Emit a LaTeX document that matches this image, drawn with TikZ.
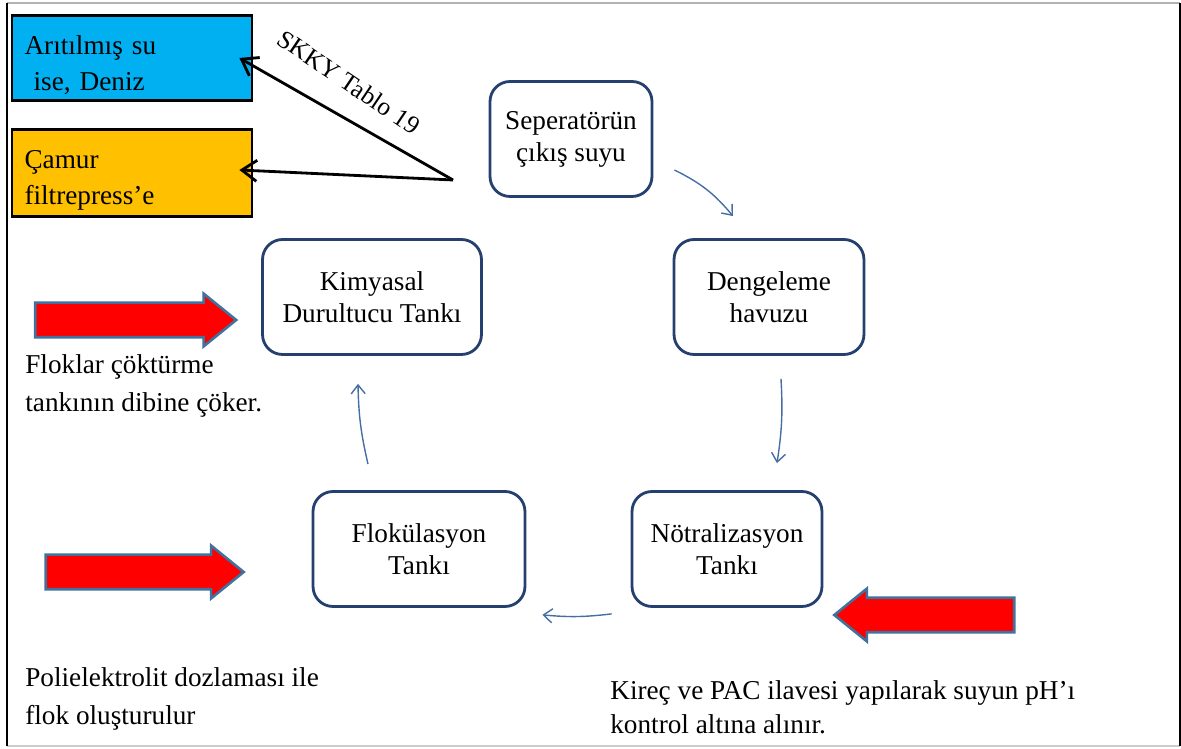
\documentclass[tikz,border=0pt]{standalone}
\usepackage{fontspec}
\setmainfont{Liberation Serif}
\usetikzlibrary{shapes.arrows,arrows.meta}
\definecolor{boxblue}{RGB}{37,64,110}
\definecolor{flowblue}{RGB}{70,110,165}
\definecolor{arrowedge}{RGB}{65,113,156}
\definecolor{skyfill}{RGB}{0,176,240}
\definecolor{goldfill}{RGB}{255,192,0}
\begin{document}
\begin{tikzpicture}[
        x=0.02cm, y=-0.02cm,
        box/.style={rectangle, draw=boxblue, line width=1.6pt, rounded corners=0.4cm,
                    minimum height=2.3cm, align=center,
                    font=\fontsize{15.5}{18.2}\selectfont},
        outbox/.style={rectangle, draw, line width=1.6pt, minimum width=4.8cm,
                    minimum height=1.7cm, text width=4.3cm, align=left,
                    font=\fontsize{15.5}{20.5}\selectfont},
        flow/.style={draw=flowblue, line width=0.8pt,
                    -{Straight Barb[length=5pt,width=8pt]}},
        outline/.style={line width=1.6pt, -{Straight Barb[length=0.3cm,width=0.42cm]}},
        redarrow/.style={single arrow, fill=red, draw=arrowedge, line width=1.5pt,
                    minimum width=0pt, single arrow head extend=0.18cm,
                    single arrow tip angle=78, inner xsep=0pt, inner ysep=0.32cm},
        note/.style={align=left, anchor=west, inner sep=0pt}
    ]
        \useasboundingbox (0,0) rectangle (1181,749);
        % frame
        \draw[gray!60, line width=1pt] (7,3) -- (1180,3);
        \draw[gray!40, line width=1pt] (7,746) -- (1180,746);
        \draw[line width=1.2pt] (7,3) -- (7,746);
        \draw[line width=1.2pt] (1180,3) -- (1180,746);

        % process cycle
        \node[box, minimum width=3.24cm] (sep)  at (571,139) {Seperatörün\\çıkış suyu};
        \node[box, minimum width=3.8cm]  (deng) at (769,297) {Dengeleme\\havuzu};
        \node[box, minimum width=3.8cm]  (nor)  at (727,549) {Nötralizasyon\\Tankı};
        \node[box, minimum width=4.24cm] (flok) at (419,549) {Flokülasyon\\Tankı};
        \node[box, minimum width=4.38cm] (kim)  at (372,297) {Kimyasal\\Durultucu Tankı};

        \draw[flow] ([xshift=0.42cm,yshift=-0.62cm]sep.east) to[bend left=12]
            ([xshift=-0.72cm,yshift=0.44cm]deng.north);
        \draw[flow] ([xshift=0.24cm,yshift=-0.46cm]deng.south) to[bend left=6]
            ([xshift=1cm,yshift=0.54cm]nor.north);
        \draw[flow] ([xshift=-0.38cm,yshift=-0.12cm]nor.south west) to[bend left=6]
            ([xshift=0.32cm,yshift=-0.14cm]flok.south east);
        \draw[flow] ([xshift=-1.02cm,yshift=0.52cm]flok.north) to[bend left=6]
            ([xshift=-0.28cm,yshift=-0.56cm]kim.south);

        % outlets
        \node[outbox, fill=skyfill] (arit) at (132,58)
            {\rule{0pt}{19pt}Arıtılmış su\\\ ise, Deniz};
        \node[outbox, fill=goldfill, below of=arit, node distance=2.3cm] (camur)
            {\rule{0pt}{19pt}Çamur\\filtrepress’e};
        \coordinate (split) at (453,180);
        \draw[outline] (split) -- ([xshift=-0.28cm]arit.east);
        \draw[outline] (split) -- ([xshift=-0.28cm,yshift=0.06cm]camur.east);
        \node[rotate=-34, font=\fontsize{14.5}{17}\selectfont] (skky) at (349,82) {SKKY Tablo 19};

        % dosing arrows
        \node[redarrow, minimum height=4.02cm] (dose1) at (125,320) {};
        \node[redarrow, minimum height=3.96cm] (dose2) at (134,572) {};
        \node[redarrow, minimum height=3.6cm, shape border rotate=180] (dose3) at (935,615) {};

        % notes
        \node[note, font=\fontsize{15.5}{21.5}\selectfont] (n1) at (25,386)
            {Floklar çöktürme\\tankının dibine çöker.};
        \node[note, font=\fontsize{15.5}{21.5}\selectfont] (n2) at (25,699)
            {Polielektrolit dozlaması ile\\flok oluşturulur};
        \node[note, font=\fontsize{15.5}{19.5}\selectfont] (n3) at (610,707)
            {Kireç ve PAC ilavesi yapılarak suyun pH’ı\\kontrol altına alınır.};
    \end{tikzpicture}
\end{document}
